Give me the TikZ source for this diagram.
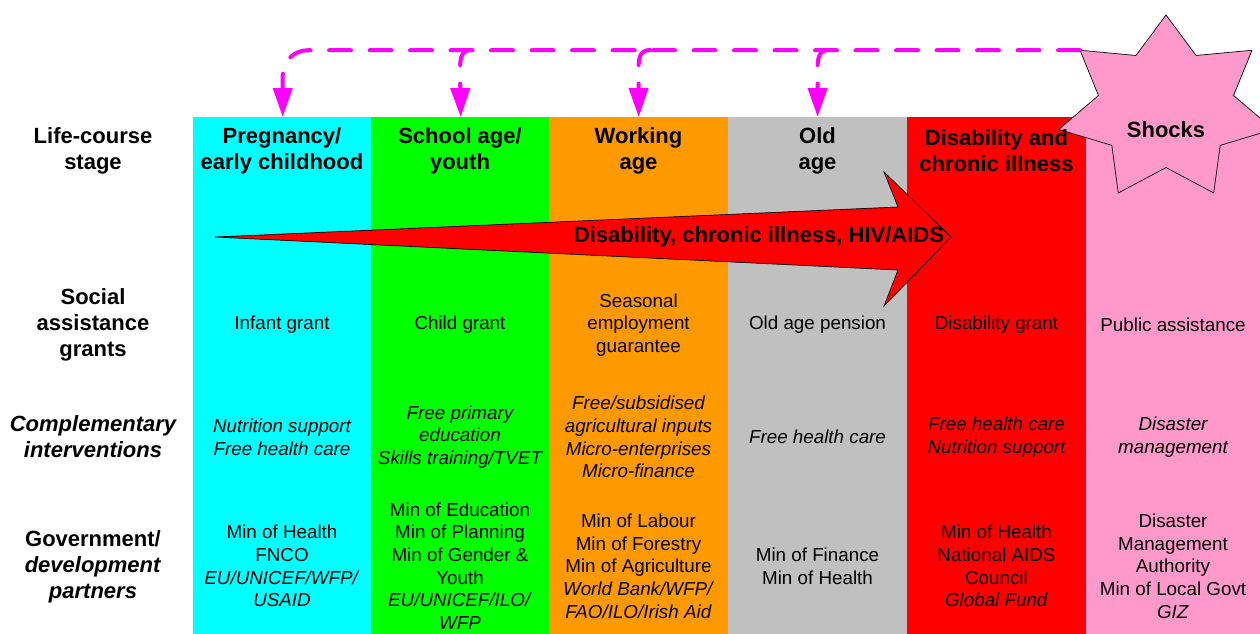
\documentclass[tikz,border=0pt]{standalone}
\usepackage{fontspec}
\setmainfont{Liberation Sans}
\usetikzlibrary{arrows.meta}

\definecolor{stagecyan}{HTML}{00FFFF}
\definecolor{stagegreen}{HTML}{00FF00}
\definecolor{stageorange}{HTML}{FF9900}
\definecolor{stagegray}{HTML}{C0C0C0}
\definecolor{stagered}{HTML}{FF0000}
\definecolor{stagepink}{HTML}{FF99CC}
\definecolor{shockmagenta}{HTML}{FF00FF}

\begin{document}
\begin{tikzpicture}[x=1pt, y=-1pt,
  every node/.style={align=center, inner sep=0pt},
  column/.style={draw=none, anchor=north west, minimum width=179pt, minimum height=517pt},
  heading/.style={font=\fontsize{22}{26}\selectfont\bfseries},
  entry/.style={font=\fontsize{18.8}{22.7}\selectfont},
  shockline/.style={draw=shockmagenta, line width=4pt, line cap=round,
    dash pattern=on 22pt off 18.5pt, -{Triangle[length=29pt, width=19pt]}}]

\useasboundingbox (0,0) rectangle (1260,634);

% columns
\node[column, fill=stagecyan] (col1) at (193,117) {};
\node[column, fill=stagegreen] (col2) at (371,117) {};
\node[column, fill=stageorange] (col3) at (549,117) {};
\node[column, fill=stagegray] (col4) at (728,117) {};
\node[column, fill=stagered] (col5) at (907,117) {};
\node[column, fill=stagepink] (col6) at (1086,117) {};

% big arrow
\draw[fill=stagered, line width=0.7pt] (215,237) -- (898,207) -- (884,172) -- (951,237)
  -- (884,306) -- (898,270) -- cycle;
\node[heading] (illness) at (759,237) {Disability, chronic illness, HIV/AIDS};

% star
\foreach \i in {0,...,13} {
  \pgfmathsetmacro{\k}{ifthenelse(mod(\i,2)==0,1,0.63)}
  \coordinate (s\i) at ({1166+110*\k*cos(90+\i*360/14)}, {108.6-93.6*\k*sin(90+\i*360/14)});
}
\draw[fill=stagepink, line width=0.7pt] (s0) -- (s1) -- (s2) -- (s3) -- (s4) -- (s5) -- (s6)
  -- (s7) -- (s8) -- (s9) -- (s10) -- (s11) -- (s12) -- (s13) -- cycle;

% life-course stages
\node[heading] (stage1) at (282,151) {Pregnancy/\\early childhood};
\node[heading] (stage2) at (460,151) {School age/\\youth};
\node[heading] (stage3) at (638.5,151) {Working\\age};
\node[heading] (stage4) at (817.5,151) {Old\\age};
\node[heading] (stage5) at (996.5,151) {Disability and\\chronic illness};
\node[heading] (shocks) at (1166,130) {Shocks};

% row labels
\node[heading] (lstage) at (93,151) {Life-course\\stage};
\node[heading] (lgrant) at (93,325) {Social\\assistance\\grants};
\node[heading, font=\fontsize{22}{26}\selectfont\bfseries\itshape] (lcompl) at (93,437) {Complementary\\interventions};
\node[heading] (lgov) at (93,567) {Government/\\\textit{development}\\\textit{partners}};

% grants
\node[entry] (grant1) at (282,325) {Infant grant};
\node[entry] (grant2) at (460,325) {Child grant};
\node[entry] (grant3) at (638.5,325) {Seasonal\\employment\\guarantee};
\node[entry] (grant4) at (817.5,325) {Old age pension};
\node[entry] (grant5) at (996.5,325) {Disability grant};
\node[entry] (grant6) at (1173,325) {Public assistance};

% complementary interventions
\node[entry, font=\fontsize{18.8}{22.7}\selectfont\itshape] (compl1) at (282,437) {Nutrition support\\Free health care};
\node[entry, font=\fontsize{18.8}{22.7}\selectfont\itshape] (compl2) at (460,437) {Free primary\\education\\Skills training/TVET};
\node[entry, font=\fontsize{18.8}{22.7}\selectfont\itshape] (compl3) at (638.5,437) {Free/subsidised\\agricultural inputs\\Micro-enterprises\\Micro-finance};
\node[entry, font=\fontsize{18.8}{22.7}\selectfont\itshape] (compl4) at (817.5,437) {Free health care};
\node[entry, font=\fontsize{18.8}{22.7}\selectfont\itshape] (compl5) at (996.5,437) {Free health care\\Nutrition support};
\node[entry, font=\fontsize{18.8}{22.7}\selectfont\itshape] (compl6) at (1173,437) {Disaster\\management};

% government / partners
\node[entry] (gov1) at (282,566) {Min of Health\\FNCO\\\textit{EU/UNICEF/WFP/}\\\textit{USAID}};
\node[entry] (gov2) at (460,566) {Min of Education\\Min of Planning\\Min of Gender \&\\Youth\\\textit{EU/UNICEF/ILO/}\\\textit{WFP}};
\node[entry] (gov3) at (638.5,566) {Min of Labour\\Min of Forestry\\Min of Agriculture\\\textit{World Bank/WFP/}\\\textit{FAO/ILO/Irish Aid}};
\node[entry] (gov4) at (817.5,566) {Min of Finance\\Min of Health};
\node[entry] (gov5) at (996.5,566) {Min of Health\\National AIDS\\Council\\\textit{Global Fund}};
\node[entry] (gov6) at (1173,566) {Disaster\\Management\\Authority\\Min of Local Govt\\\textit{GIZ}};

% shocks hit every stage
\draw[shockline, rounded corners=25pt] (s2) -- (col1.north |- s2) -- (col1.north);
\draw[shockline] (472,50) .. controls (462,50) and (460,56) .. (460,70) -- (col2.north);
\draw[shockline] (650.5,50) .. controls (640.5,50) and (638.5,56) .. (638.5,70) -- (col3.north);
\draw[shockline] (829.5,50) .. controls (819.5,50) and (817.5,56) .. (817.5,70) -- (col4.north);

\end{tikzpicture}
\end{document}
